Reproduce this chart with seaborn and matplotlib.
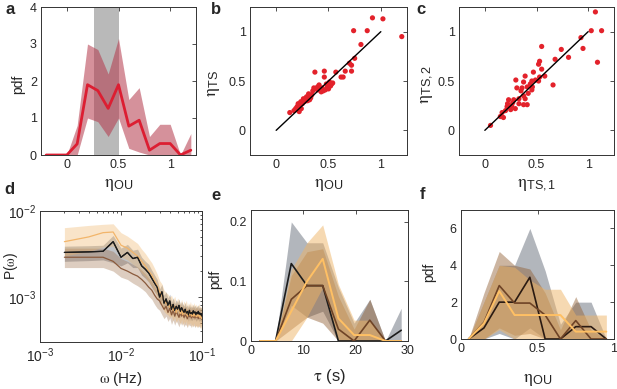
import matplotlib
matplotlib.use('Agg')
import matplotlib.pyplot as plt
import seaborn as sns
import numpy as np
import pandas as pd

sns.set_theme(style='white')
plt.rcParams['font.family'] = ['Liberation Sans', 'DejaVu Sans']
plt.rcParams['mathtext.fontset'] = 'custom'
plt.rcParams['mathtext.rm'] = 'STIXGeneral'
plt.rcParams['mathtext.it'] = 'STIXGeneral:italic'
plt.rcParams['mathtext.sf'] = 'Liberation Sans'
plt.rcParams['xtick.direction'] = 'in'
plt.rcParams['ytick.direction'] = 'in'

# ---- panel a: pdf of eta_OU
a_x = [-0.2, -0.1, 0.0, 0.1, 0.2, 0.3, 0.4, 0.5, 0.6, 0.7, 0.8, 0.9, 1.0, 1.1, 1.2]
a_pdf = [0, 0, 0, 0.3, 1.9, 1.74, 1.26, 1.9, 0.78, 0.94, 0.13, 0.31, 0.31, 0, 0.13]
a_hi = [0, 0, 0, 0.8, 3.0, 2.85, 2.19, 3.15, 1.5, 1.82, 0.5, 0.83, 0.83, 0, 0.58]
a_lo = [0, 0, 0, 0, 1.0, 0.9, 0.5, 1.0, 0.18, 0.08, 0, 0, 0, 0, 0]
a_span = [0.266, 0.5]

# ---- panel b: eta_TS vs eta_OU
b_x = [0.92, 1.02, 1.20, 0.74, 0.87, 0.81, 0.75, 0.70, 0.72, 0.72, 0.66, 0.62, 0.64,
       0.57, 0.46, 0.37, 0.46, 0.51, 0.54, 0.52, 0.49, 0.47, 0.43, 0.41, 0.395, 0.36,
       0.35, 0.31, 0.28, 0.27, 0.235, 0.22, 0.20, 0.186, 0.17, 0.13, 0.22, 0.25, 0.30,
       0.33, 0.38, 0.44, 0.48, 0.50, 0.24, 0.29, 0.34, 0.19, 0.21, 0.26, 0.45, 0.53,
       0.32, 0.40]
b_y = [1.14, 1.13, 0.95, 1.01, 1.01, 0.87, 0.73, 0.68, 0.66, 0.60, 0.60, 0.54, 0.54,
       0.59, 0.60, 0.59, 0.54, 0.49, 0.48, 0.45, 0.44, 0.41, 0.39, 0.46, 0.44, 0.43,
       0.40, 0.37, 0.32, 0.29, 0.29, 0.245, 0.24, 0.22, 0.20, 0.18, 0.19, 0.27, 0.30,
       0.33, 0.42, 0.43, 0.47, 0.42, 0.22, 0.34, 0.36, 0.21, 0.27, 0.32, 0.40, 0.47,
       0.31, 0.41]

# ---- panel c: eta_TS,2 vs eta_TS,1
c_x = [1.07, 1.03, 1.13, 0.93, 0.95, 1.09, 0.74, 0.81, 0.68, 0.55, 0.53, 0.52, 0.55,
       0.47, 0.58, 0.53, 0.52, 0.49, 0.455, 0.39, 0.375, 0.41, 0.36, 0.31, 0.30, 0.455,
       0.42, 0.375, 0.39, 0.41, 0.375, 0.66, 0.33, 0.28, 0.26, 0.23, 0.215, 0.25, 0.20,
       0.167, 0.18, 0.15, 0.295, 0.055, 0.33, 0.44, 0.35, 0.27, 0.22, 0.46]
c_y = [1.20, 1.01, 1.01, 0.94, 0.83, 0.69, 0.82, 0.74, 0.72, 0.85, 0.70, 0.67, 0.62,
       0.59, 0.55, 0.54, 0.50, 0.51, 0.50, 0.55, 0.49, 0.44, 0.43, 0.43, 0.51, 0.41,
       0.375, 0.35, 0.32, 0.26, 0.26, 0.46, 0.32, 0.31, 0.25, 0.31, 0.24, 0.21, 0.20,
       0.18, 0.13, 0.14, 0.22, 0.05, 0.27, 0.47, 0.40, 0.28, 0.27, 0.44]

# ---- panel d: power spectra (values in units of 1e-3)
d_freq = [0.002, 0.004, 0.006, 0.008, 0.010, 0.012, 0.014, 0.016, 0.018, 0.020,
          0.022, 0.024, 0.026, 0.028, 0.030, 0.032, 0.034, 0.036, 0.038, 0.040,
          0.042, 0.044, 0.046, 0.048, 0.050, 0.052, 0.054, 0.056, 0.058, 0.060,
          0.062, 0.064, 0.066, 0.068, 0.070, 0.072, 0.074, 0.076, 0.078, 0.080,
          0.082, 0.084, 0.086, 0.088, 0.090, 0.092, 0.094, 0.096, 0.098, 0.100]
d_black = [3.3, 3.35, 3.4, 4.4, 2.9, 3.3, 2.8, 2.9, 2.3, 2.1,
           1.9, 1.65, 1.45, 1.3, 1.0, 1.15, 0.85, 0.95, 0.8, 0.9,
           0.72, 0.82, 0.7, 0.78, 0.72, 0.8, 0.68, 0.75, 0.7, 0.66,
           0.72, 0.65, 0.68, 0.62, 0.7, 0.64, 0.66, 0.63, 0.69, 0.65,
           0.67, 0.62, 0.66, 0.64, 0.68, 0.63, 0.65, 0.62, 0.64, 0.6]
d_black_lo = [2.6, 2.65, 2.7, 2.5, 2.3, 2.5, 2.2, 2.2, 1.8, 1.65,
              1.5, 1.3, 1.15, 1.05, 0.82, 0.92, 0.7, 0.78, 0.66, 0.74,
              0.6, 0.68, 0.58, 0.65, 0.6, 0.66, 0.57, 0.62, 0.58, 0.55,
              0.6, 0.54, 0.57, 0.52, 0.58, 0.53, 0.55, 0.53, 0.57, 0.54,
              0.56, 0.52, 0.55, 0.53, 0.57, 0.52, 0.54, 0.52, 0.53, 0.5]
d_black_hi = [3.9, 3.95, 4.0, 5.2, 3.7, 4.1, 3.5, 3.6, 2.9, 2.6,
              2.4, 2.05, 1.8, 1.6, 1.25, 1.4, 1.05, 1.15, 0.97, 1.08,
              0.87, 0.98, 0.84, 0.93, 0.86, 0.95, 0.81, 0.89, 0.83, 0.79,
              0.86, 0.77, 0.81, 0.74, 0.83, 0.76, 0.79, 0.75, 0.82, 0.77,
              0.8, 0.74, 0.79, 0.76, 0.81, 0.75, 0.77, 0.74, 0.76, 0.72]
d_brown = [2.9, 2.9, 2.9, 2.6, 2.15, 2.0, 1.85, 1.75, 1.6, 1.45,
           1.3, 1.2, 1.05, 0.95, 0.9, 0.8, 0.72, 0.78, 0.66, 0.74,
           0.62, 0.7, 0.6, 0.68, 0.63, 0.58, 0.66, 0.6, 0.64, 0.58,
           0.62, 0.6, 0.56, 0.63, 0.59, 0.61, 0.57, 0.62, 0.58, 0.6,
           0.57, 0.61, 0.58, 0.6, 0.56, 0.59, 0.57, 0.6, 0.56, 0.55]
d_brown_lo = [2.2, 2.2, 2.2, 2.0, 1.7, 1.6, 1.45, 1.35, 1.25, 1.15,
              1.02, 0.94, 0.82, 0.74, 0.7, 0.62, 0.56, 0.6, 0.52, 0.57,
              0.48, 0.54, 0.47, 0.53, 0.49, 0.45, 0.51, 0.47, 0.5, 0.45,
              0.48, 0.47, 0.44, 0.49, 0.46, 0.47, 0.44, 0.48, 0.45, 0.47,
              0.44, 0.47, 0.45, 0.47, 0.44, 0.46, 0.44, 0.47, 0.44, 0.43]
d_brown_hi = [3.7, 3.7, 3.7, 3.4, 2.8, 2.6, 2.4, 2.25, 2.05, 1.85,
              1.66, 1.52, 1.34, 1.2, 1.14, 1.02, 0.92, 0.99, 0.84, 0.94,
              0.79, 0.89, 0.76, 0.86, 0.8, 0.74, 0.84, 0.76, 0.81, 0.74,
              0.79, 0.76, 0.71, 0.8, 0.75, 0.77, 0.72, 0.79, 0.74, 0.76,
              0.72, 0.77, 0.74, 0.76, 0.71, 0.75, 0.72, 0.76, 0.71, 0.7]
d_orange = [4.4, 5.0, 5.6, 5.7, 4.0, 3.7, 3.3, 3.0, 2.6, 2.3,
            2.0, 1.8, 1.55, 1.35, 1.15, 1.05, 0.9, 0.85, 0.82, 0.76,
            0.8, 0.7, 0.78, 0.66, 0.74, 0.7, 0.64, 0.72, 0.62, 0.69,
            0.64, 0.7, 0.6, 0.66, 0.62, 0.68, 0.6, 0.64, 0.6, 0.66,
            0.6, 0.63, 0.59, 0.62, 0.6, 0.64, 0.58, 0.61, 0.57, 0.56]
d_orange_lo = [3.0, 3.4, 3.8, 3.9, 2.9, 2.7, 2.4, 2.2, 1.9, 1.7,
               1.5, 1.35, 1.15, 1.0, 0.86, 0.79, 0.68, 0.64, 0.62, 0.58,
               0.6, 0.53, 0.59, 0.5, 0.56, 0.53, 0.48, 0.55, 0.47, 0.52,
               0.48, 0.53, 0.45, 0.5, 0.47, 0.51, 0.45, 0.48, 0.45, 0.5,
               0.45, 0.47, 0.44, 0.46, 0.45, 0.48, 0.43, 0.46, 0.42, 0.41]
d_orange_hi = [6.4, 6.8, 7.0, 7.1, 5.6, 5.1, 4.6, 4.2, 3.6, 3.2,
               2.8, 2.5, 2.15, 1.85, 1.55, 1.42, 1.2, 1.13, 1.08, 1.0,
               1.05, 0.92, 1.02, 0.86, 0.97, 0.92, 0.84, 0.94, 0.81, 0.9,
               0.84, 0.92, 0.79, 0.86, 0.81, 0.89, 0.79, 0.84, 0.79, 0.86,
               0.79, 0.83, 0.77, 0.81, 0.79, 0.84, 0.76, 0.8, 0.75, 0.74]

# ---- panel e: pdf of tau
e_tau = [1.7, 4.7, 7.7, 10.7, 13.7, 16.7, 19.7, 22.7, 25.7, 28.7]
e_black = [0, 0, 0.13, 0.093, 0.093, 0, 0, 0, 0, 0.018]
e_black_lo = [0, 0, 0.06, 0.04, 0.05, 0, 0, 0, 0, 0]
e_black_hi = [0, 0, 0.2, 0.165, 0.165, 0.09, 0.03, 0.07, 0, 0.055]
e_brown = [0, 0, 0.07, 0.093, 0.093, 0.02, 0, 0.035, 0, 0]
e_brown_lo = [0, 0, 0.02, 0.04, 0.03, 0, 0, 0, 0, 0]
e_brown_hi = [0, 0, 0.11, 0.15, 0.155, 0.075, 0.02, 0.07, 0, 0]
e_orange = [0, 0, 0.05, 0.1, 0.138, 0.038, 0.01, 0.01, 0, 0]
e_orange_lo = [0, 0, 0, 0.04, 0.09, 0, 0, 0, 0, 0]
e_orange_hi = [0, 0, 0.12, 0.165, 0.195, 0.095, 0.035, 0.035, 0, 0]

# ---- panel f: pdf of eta_OU per group
f_x = [0.05, 0.15, 0.25, 0.35, 0.45, 0.55, 0.65, 0.75, 0.85, 0.95]
f_black = [0, 0.6, 2.0, 2.0, 3.35, 0, 0, 0.67, 0.67, 0]
f_black_lo = [0, 0, 0.3, 0, 0.6, 0, 0, 0, 0, 0]
f_black_hi = [0, 2.0, 4.0, 4.0, 6.0, 3.7, 0.8, 2.0, 2.0, 0]
f_brown = [0, 0.9, 2.9, 1.95, 1.95, 1.3, 0, 1.0, 0, 0]
f_brown_lo = [0, 0, 0.6, 0.2, 0.3, 0, 0, 0, 0, 0]
f_brown_hi = [0, 2.5, 4.75, 4.0, 3.8, 2.5, 0.5, 2.3, 0.5, 0]
f_orange = [0, 0.85, 2.6, 1.3, 1.3, 1.3, 1.3, 0.4, 0.4, 0.4]
f_orange_lo = [0, 0, 0.5, 0, 0, 0, 0, 0, 0, 0]
f_orange_hi = [0, 2.0, 4.0, 3.9, 3.2, 2.7, 2.7, 1.3, 1.3, 1.3]

red = '#dc1e32'
c_black, b_black = '#1c1c1c', '#747a86'
c_brown, b_brown = '#6e4326', '#8f5c30'
c_orange, b_orange = '#ffc064', '#efb466'

W, H = 617, 389
fig = plt.figure(figsize=(W / 100, H / 100), dpi=100)


def box(l, r, t, b):
    return fig.add_axes([l / W, 1 - b / H, (r - l) / W, (b - t) / H])


def style(ax):
    ax.tick_params(axis='both', which='both', top=True, right=True, labelsize=9,
                   length=3, width=0.6, color='#333333', pad=3)
    ax.tick_params(which='minor', length=1.6)
    for s in ax.spines.values():
        s.set_linewidth(0.7)
        s.set_color('#333333')
    ax.set_facecolor('white')


def group(ax, x, y, lo, hi, lcol, bcol, lw=1.2, alpha=0.5):
    ax.fill_between(x, lo, hi, color=bcol, alpha=alpha, lw=0)
    sns.lineplot(x=x, y=y, ax=ax, color=lcol, lw=lw, sort=False, estimator=None)


eta_ou = r'$\mathrm{\eta}_{\mathsf{OU}}$'

# a
ax = box(41, 196, 7, 155)
ax.axvspan(a_span[0], a_span[1], color='#a8a8a8', alpha=0.8, lw=0)
ax.fill_between(a_x, a_lo, a_hi, color='#b4374a', alpha=0.55, lw=0)
sns.lineplot(x=a_x, y=a_pdf, ax=ax, color=red, lw=2, sort=False, estimator=None)
ax.set_xlim(-0.25, 1.25)
ax.set_ylim(0, 4)
ax.set_xticks([0, 0.5, 1])
ax.set_xticklabels(['0', '0.5', '1'])
ax.set_yticks([0, 1, 2, 3, 4])
ax.set_ylabel('pdf', fontsize=10)
ax.set_xlabel(eta_ou, fontsize=13)
ax.yaxis.set_label_coords(-0.1, 0.48)
ax.xaxis.set_label_coords(0.5, -0.14)
style(ax)

# b
ax = box(250, 407, 7, 155)
sns.lineplot(x=[0, 1], y=[0, 1], ax=ax, color='black', lw=1)
sns.scatterplot(x=b_x, y=b_y, ax=ax, color='#e3222b', s=14, edgecolor='none')
ax.set_xlim(-0.25, 1.25)
ax.set_ylim(-0.25, 1.25)
ax.set_xticks([0, 0.5, 1])
ax.set_xticklabels(['0', '0.5', '1'])
ax.set_yticks([0, 0.5, 1])
ax.set_yticklabels(['0', '0.5', '1'])
ax.set_ylabel(r'$\mathrm{\eta}_{\mathsf{TS}}$', fontsize=13)
ax.set_xlabel(eta_ou, fontsize=13)
ax.yaxis.set_label_coords(-0.18, 0.48)
ax.xaxis.set_label_coords(0.5, -0.14)
style(ax)

# c
ax = box(459, 614, 7, 155)
sns.lineplot(x=[0, 1], y=[0, 1], ax=ax, color='black', lw=1)
sns.scatterplot(x=c_x, y=c_y, ax=ax, color='#e3222b', s=14, edgecolor='none')
ax.set_xlim(-0.25, 1.25)
ax.set_ylim(-0.25, 1.25)
ax.set_xticks([0, 0.5, 1])
ax.set_xticklabels(['0', '0.5', '1'])
ax.set_yticks([0, 0.5, 1])
ax.set_yticklabels(['0', '0.5', '1'])
ax.set_ylabel(r'$\mathrm{\eta}_{\mathsf{TS,2}}$', fontsize=13)
ax.set_xlabel(r'$\mathrm{\eta}_{\mathsf{TS,1}}$', fontsize=13)
ax.yaxis.set_label_coords(-0.155, 0.48)
ax.xaxis.set_label_coords(0.5, -0.14)
style(ax)

# d
ax = box(40, 202, 211, 342)
sc = 1e-3
group(ax, d_freq, np.array(d_black) * sc, np.array(d_black_lo) * sc, np.array(d_black_hi) * sc,
      c_black, b_black, lw=0.9, alpha=0.45)
group(ax, d_freq, np.array(d_brown) * sc, np.array(d_brown_lo) * sc, np.array(d_brown_hi) * sc,
      '#8a5a3c', b_brown, lw=0.9, alpha=0.3)
group(ax, d_freq, np.array(d_orange) * sc, np.array(d_orange_lo) * sc, np.array(d_orange_hi) * sc,
      '#f2b56a', b_orange, lw=0.9, alpha=0.35)
sns.lineplot(x=d_freq, y=np.array(d_black) * sc, ax=ax, color=c_black, lw=0.9, sort=False, estimator=None)
ax.set_xscale('log')
ax.set_yscale('log')
ax.set_xlim(1e-3, 1e-1)
ax.set_ylim(3e-4, 1e-2)
ax.set_xticks([1e-3, 1e-2, 1e-1])
ax.set_yticks([1e-3, 1e-2])
ax.set_ylabel(r'P($\mathrm{\omega}$)', fontsize=10)
ax.set_xlabel(r'$\mathrm{\omega}$ (Hz)', fontsize=11)
ax.yaxis.set_label_coords(-0.125, 0.58)
ax.xaxis.set_label_coords(0.5, -0.21)
style(ax)
ax.tick_params(axis='both', labelsize=10)

# e
ax = box(251, 408, 210, 341)
group(ax, e_tau, e_black, e_black_lo, e_black_hi, c_black, b_black, alpha=0.55)
group(ax, e_tau, e_brown, e_brown_lo, e_brown_hi, c_brown, b_brown, alpha=0.45)
group(ax, e_tau, e_orange, e_orange_lo, e_orange_hi, c_orange, b_orange, lw=1.4, alpha=0.5)
ax.set_xlim(0, 30)
ax.set_ylim(0, 0.22)
ax.set_xticks([0, 10, 20, 30])
ax.set_yticks([0, 0.1, 0.2])
ax.set_yticklabels(['0', '0.1', '0.2'])
ax.set_ylabel('pdf', fontsize=10)
ax.set_xlabel(r'$\mathrm{\tau}$ (s)', fontsize=12)
ax.yaxis.set_label_coords(-0.185, 0.47)
ax.xaxis.set_label_coords(0.5, -0.2)
style(ax)

# f
ax = box(461, 614, 210, 339)
group(ax, f_x, f_black, f_black_lo, f_black_hi, '#2a1a12', b_black, alpha=0.55)
group(ax, f_x, f_brown, f_brown_lo, f_brown_hi, c_brown, b_brown, alpha=0.45)
group(ax, f_x, f_orange, f_orange_lo, f_orange_hi, c_orange, b_orange, lw=1.4, alpha=0.5)
ax.set_xlim(0, 1)
ax.set_ylim(0, 7)
ax.set_xticks([0, 0.5, 1])
ax.set_xticklabels(['0', '0.5', '1'])
ax.set_yticks([0, 2, 4, 6])
ax.set_ylabel('pdf', fontsize=10)
ax.set_xlabel(eta_ou, fontsize=13)
ax.yaxis.set_label_coords(-0.16, 0.52)
ax.xaxis.set_label_coords(0.5, -0.25)
style(ax)

for t, x, y in [('a', 10, 9), ('b', 216, 9), ('c', 421, 9),
                ('d', 9, 190), ('e', 216, 196), ('f', 423, 194)]:
    fig.text(x / W, 1 - y / H, t, fontsize=12, fontweight='bold', ha='center', va='center')

fig.savefig('out.png', dpi=100)
